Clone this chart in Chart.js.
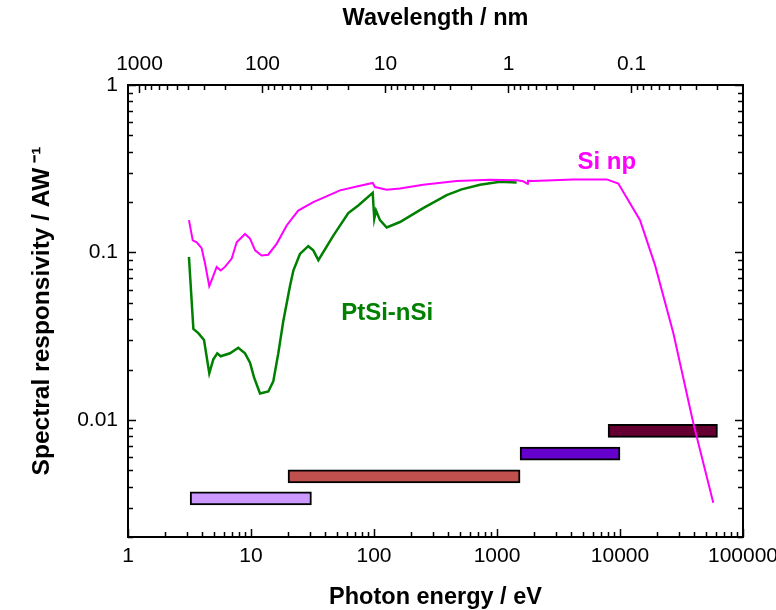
<!DOCTYPE html>
<html>
<head>
<meta charset="utf-8">
<script src="https://cdn.jsdelivr.net/npm/chart.js@4.4.1/dist/chart.umd.min.js"></script>
<style>
  body { margin: 0; background: #fff; }
  #wrap { width: 776px; height: 610px; }
</style>
</head>
<body>
<div id="wrap"><canvas id="responsivity" width="776" height="610"></canvas></div>
<script>
// Si np photodiode
const siEnergy = [3.13, 3.36, 3.62, 3.97, 4.23, 4.58, 4.85, 5.26, 5.67, 6.14, 6.97, 7.65, 8.94, 9.82, 10.8, 12.2, 13.8, 16.2, 19.5, 24.2,
  32.1, 52.9, 72.3, 97.6, 101.9, 126.8, 162.6, 251, 470, 877, 1445, 1636, 1764, 1785, 1973, 4150, 7800, 9690, 14550, 19270,
  27130, 39430, 57330]
const siResp = [0.156, 0.118, 0.115, 0.106, 0.086, 0.063, 0.070, 0.082, 0.078, 0.082, 0.092, 0.115, 0.129, 0.121, 0.103, 0.096, 0.097, 0.113, 0.145, 0.178,
  0.200, 0.235, 0.248, 0.260, 0.246, 0.237, 0.241, 0.254, 0.267, 0.272, 0.270, 0.266, 0.257, 0.268, 0.267, 0.273, 0.273, 0.258, 0.156, 0.084,
  0.033, 0.0096, 0.0032]

// PtSi-nSi photodiode
const ptEnergy = [3.13, 3.40, 3.73, 4.15, 4.58, 4.94, 5.32, 5.67, 6.75, 7.88, 8.94, 9.82, 10.57, 11.84, 13.83, 15.18, 16.67, 18.31, 20.75, 22.1,
  25.0, 29.2, 32.1, 35.3, 46.7, 61.8, 74.5, 97.6, 100.5, 103.8, 111.9, 126.8, 162.6, 251, 390, 516, 728, 1058, 1445]
const ptResp = [0.094, 0.035, 0.033, 0.030, 0.019, 0.023, 0.025, 0.024, 0.025, 0.027, 0.025, 0.022, 0.018, 0.0144, 0.0148, 0.017, 0.025, 0.039, 0.063, 0.078,
  0.098, 0.109, 0.103, 0.090, 0.126, 0.172, 0.191, 0.227, 0.159, 0.178, 0.156, 0.141, 0.152, 0.184, 0.220, 0.238, 0.254, 0.264, 0.262]

// energy ranges of the light sources
const rangeStart = [3.2, 20, 1540, 8000]
const rangeEnd = [31, 1540, 10000, 62000]
const rangeLevel = [0.0034, 0.0046, 0.0063, 0.0086]
const rangeColors = ['#cc99ff', '#c0504d', '#6600cc', '#660033']

// curve labels
const noteText = ['Si np', 'PtSi-nSi']
const noteEnergy = [7800, 128]
const noteResp = [0.346, 0.0431]
const noteColors = ['#ff00ff', '#008000']

const energyTicks = [1, 10, 100, 1000, 10000, 100000]
const wavelengthTicks = [1000, 100, 10, 1, 0.1]
const respTicks = [1, 0.1, 0.01]

const FONT = '"Liberation Sans", Arial, sans-serif'
Chart.defaults.font.family = FONT
Chart.defaults.color = '#000'

function isDecade(v){
    const l = Math.log10(v)
    return Math.abs(l - Math.round(l)) < 1e-9
}

function logSteps(min, max){
    const out = []
    for (let k = Math.floor(Math.log10(min)); k <= Math.ceil(Math.log10(max)); k++) {
        for (let d = 1; d <= 9; d++) {
            const v = d * Math.pow(10, k)
            if (v >= min * 0.999999 && v <= max * 1.000001) out.push(v)
        }
    }
    return out
}

// inward tick marks on all four sides
const tickMarks = {
    id: 'tickMarks',
    afterDraw(chart){
        const ctx = chart.ctx
        const a = chart.chartArea
        ctx.save()
        ctx.strokeStyle = '#000'
        ctx.lineWidth = 1.5
        Object.values(chart.scales).forEach(s => {
            logSteps(s.min, s.max).forEach(v => {
                const p = Math.round(s.getPixelForValue(v)) + 0.5
                const len = isDecade(v) ? 8 : 5
                ctx.beginPath()
                if (s.position === 'bottom') { ctx.moveTo(p, a.bottom); ctx.lineTo(p, a.bottom - len) }
                if (s.position === 'top') { ctx.moveTo(p, a.top); ctx.lineTo(p, a.top + len) }
                if (s.position === 'left') { ctx.moveTo(a.left, p); ctx.lineTo(a.left + len, p) }
                if (s.position === 'right') { ctx.moveTo(a.right, p); ctx.lineTo(a.right - len, p) }
                ctx.stroke()
            })
        })
        ctx.restore()
    }
}

const curveNotes = {
    id: 'curveNotes',
    afterDatasetsDraw(chart){
        const ctx = chart.ctx
        ctx.save()
        ctx.font = 'bold 24px ' + FONT
        ctx.textAlign = 'center'
        ctx.textBaseline = 'middle'
        noteText.forEach((t, i) => {
            ctx.fillStyle = noteColors[i]
            ctx.fillText(t, chart.scales.x.getPixelForValue(noteEnergy[i]), chart.scales.y.getPixelForValue(noteResp[i]))
        })
        ctx.restore()
    }
}

function fixSize(prop, size){
    return scale => {
        scale[prop] = size
        scale.paddingLeft = 0
        scale.paddingRight = 0
        scale.paddingTop = 0
        scale.paddingBottom = 0
    }
}

function setTicks(values){
    return scale => { scale.ticks = values.map(v => ({value: v})) }
}

const border = {display: true, color: '#000', width: 2}
const tickFont = {size: 21}
const titleFont = {size: 23.5, weight: 'bold', lineHeight: 1}

function createChart(){
    const ctx = document.querySelector('#responsivity')
    new Chart(ctx, {
        type: 'line',
        data: {
            datasets: [{
                label: 'Si np',
                data: siEnergy.map((e, i) => ({x: e, y: siResp[i]})),
                borderColor: '#ff00ff',
                borderWidth: 2,
                pointRadius: 0,
                xAxisID: 'x',
                yAxisID: 'y'
            }, {
                label: 'PtSi-nSi',
                data: ptEnergy.map((e, i) => ({x: e, y: ptResp[i]})),
                borderColor: '#008000',
                borderWidth: 2.5,
                pointRadius: 0,
                xAxisID: 'x',
                yAxisID: 'y'
            }, {
                type: 'bar',
                label: 'ranges',
                indexAxis: 'y',
                data: rangeLevel.map((r, i) => ({x: [rangeStart[i], rangeEnd[i]], y: r})),
                backgroundColor: rangeColors,
                borderColor: '#000',
                borderWidth: 2,
                borderSkipped: false,
                barThickness: 13,
                xAxisID: 'x',
                yAxisID: 'y'
            }]
        },
        options: {
            responsive: false,
            animation: false,
            layout: {padding: 0},
            plugins: {legend: {display: false}, tooltip: {enabled: false}},
            scales: {
                x: {
                    type: 'logarithmic', position: 'bottom', min: 1, max: 100000,
                    grid: {display: false, drawTicks: false}, border,
                    afterBuildTicks: setTicks(energyTicks),
                    afterFit: fixSize('height', 73),
                    ticks: {font: tickFont, padding: 7, maxRotation: 0, autoSkip: false, callback: v => String(v)},
                    title: {display: true, text: 'Photon energy / eV', font: titleFont, padding: {top: 0, bottom: 1}}
                },
                x2: {
                    type: 'logarithmic', position: 'top', min: 0.0124, max: 1240, reverse: true,
                    grid: {display: false, drawTicks: false}, border,
                    afterBuildTicks: setTicks(wavelengthTicks),
                    afterFit: fixSize('height', 85),
                    ticks: {font: tickFont, padding: 8, maxRotation: 0, autoSkip: false, callback: v => String(v)},
                    title: {display: true, text: 'Wavelength / nm', font: titleFont, padding: {top: 7, bottom: 0}}
                },
                y: {
                    type: 'logarithmic', position: 'left', min: 0.002, max: 1,
                    grid: {display: false, drawTicks: false}, border,
                    afterBuildTicks: setTicks(respTicks),
                    afterFit: fixSize('width', 128),
                    ticks: {font: tickFont, padding: 10, autoSkip: false, callback: v => String(v)},
                    title: {display: true, text: 'Spectral responsivity / AW\u2009\u207B\u00B9', font: {size: 24.5, weight: 'bold', lineHeight: 1}, padding: {top: 30, bottom: 0}}
                },
                y2: {
                    type: 'logarithmic', position: 'right', min: 0.002, max: 1,
                    grid: {display: false, drawTicks: false}, border,
                    afterFit: fixSize('width', 33),
                    ticks: {display: false}
                }
            }
        },
        plugins: [tickMarks, curveNotes]
    })
}

createChart()
</script>
</body>
</html>
